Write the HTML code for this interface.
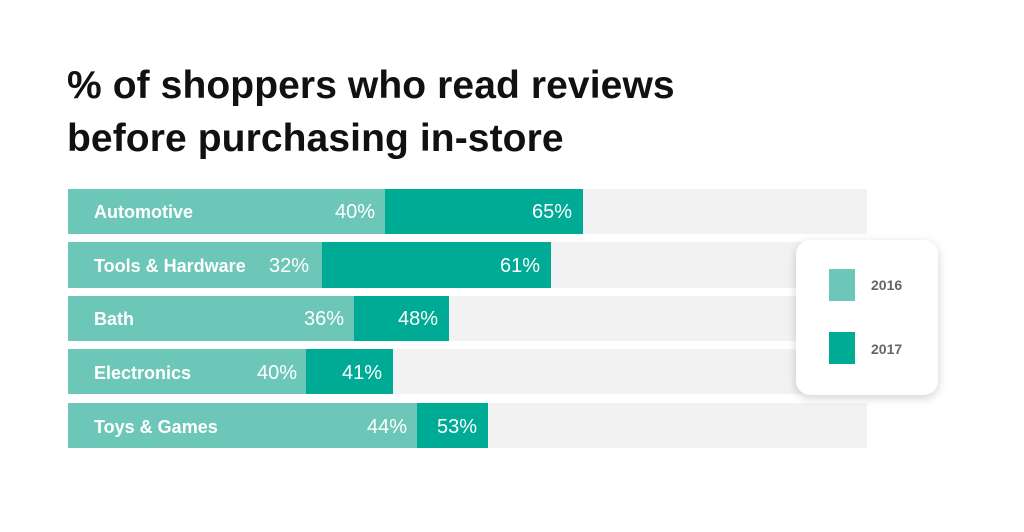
<!DOCTYPE html><html><head><style>
body{margin:0;width:1024px;height:532px;background:#fff;position:relative;font-family:"Liberation Sans",sans-serif;overflow:hidden}
.t{position:absolute;left:67px;font-size:39px;font-weight:bold;color:#111;letter-spacing:0.1px}
.bg{position:absolute;left:68px;width:799px;background:#f2f2f2}
.a{position:absolute;left:68px;background:#6dc7b9}
.b{position:absolute;background:#00ab96}
.l{position:absolute;left:94px;color:#fff;font-weight:bold;font-size:18px}
.v{position:absolute;color:#fff;font-size:20px;text-align:right}
</style></head><body>
<div class="t" style="top:64px">% of shoppers who read reviews</div>
<div class="t" style="top:117px">before purchasing in-store</div>

<div class="bg" style="top:189px;height:45px"></div><div class="a" style="top:189px;height:45px;width:317px"></div><div class="b" style="top:189px;height:45px;left:385px;width:198px"></div>
<div class="l" style="top:202px">Automotive</div><div class="v" style="top:201px;left:315px;width:60px">40%</div><div class="v" style="top:201px;left:512px;width:60px">65%</div>

<div class="bg" style="top:242px;height:46px"></div><div class="a" style="top:242px;height:46px;width:254px"></div><div class="b" style="top:242px;height:46px;left:322px;width:229px"></div>
<div class="l" style="top:256px">Tools &amp; Hardware</div><div class="v" style="top:255px;left:249px;width:60px">32%</div><div class="v" style="top:255px;left:480px;width:60px">61%</div>

<div class="bg" style="top:296px;height:45px"></div><div class="a" style="top:296px;height:45px;width:286px"></div><div class="b" style="top:296px;height:45px;left:354px;width:95px"></div>
<div class="l" style="top:309px">Bath</div><div class="v" style="top:308px;left:284px;width:60px">36%</div><div class="v" style="top:308px;left:378px;width:60px">48%</div>

<div class="bg" style="top:349px;height:45px"></div><div class="a" style="top:349px;height:45px;width:238px"></div><div class="b" style="top:349px;height:45px;left:306px;width:87px"></div>
<div class="l" style="top:363px">Electronics</div><div class="v" style="top:362px;left:237px;width:60px">40%</div><div class="v" style="top:362px;left:322px;width:60px">41%</div>

<div class="bg" style="top:403px;height:45px"></div><div class="a" style="top:403px;height:45px;width:349px"></div><div class="b" style="top:403px;height:45px;left:417px;width:71px"></div>
<div class="l" style="top:417px">Toys &amp; Games</div><div class="v" style="top:416px;left:347px;width:60px">44%</div><div class="v" style="top:416px;left:417px;width:60px">53%</div>

<div style="position:absolute;left:796px;top:240px;width:142px;height:155px;background:#fff;border-radius:14px;box-shadow:0 3px 10px rgba(0,0,0,0.18)"></div>
<div style="position:absolute;left:829px;top:269px;width:26px;height:32px;background:#6dc7b9"></div>
<div style="position:absolute;left:829px;top:332px;width:26px;height:32px;background:#00ab96"></div>
<div style="position:absolute;left:871px;top:277px;font-size:14px;font-weight:bold;color:#666">2016</div>
<div style="position:absolute;left:871px;top:341px;font-size:14px;font-weight:bold;color:#666">2017</div>
</body></html>
